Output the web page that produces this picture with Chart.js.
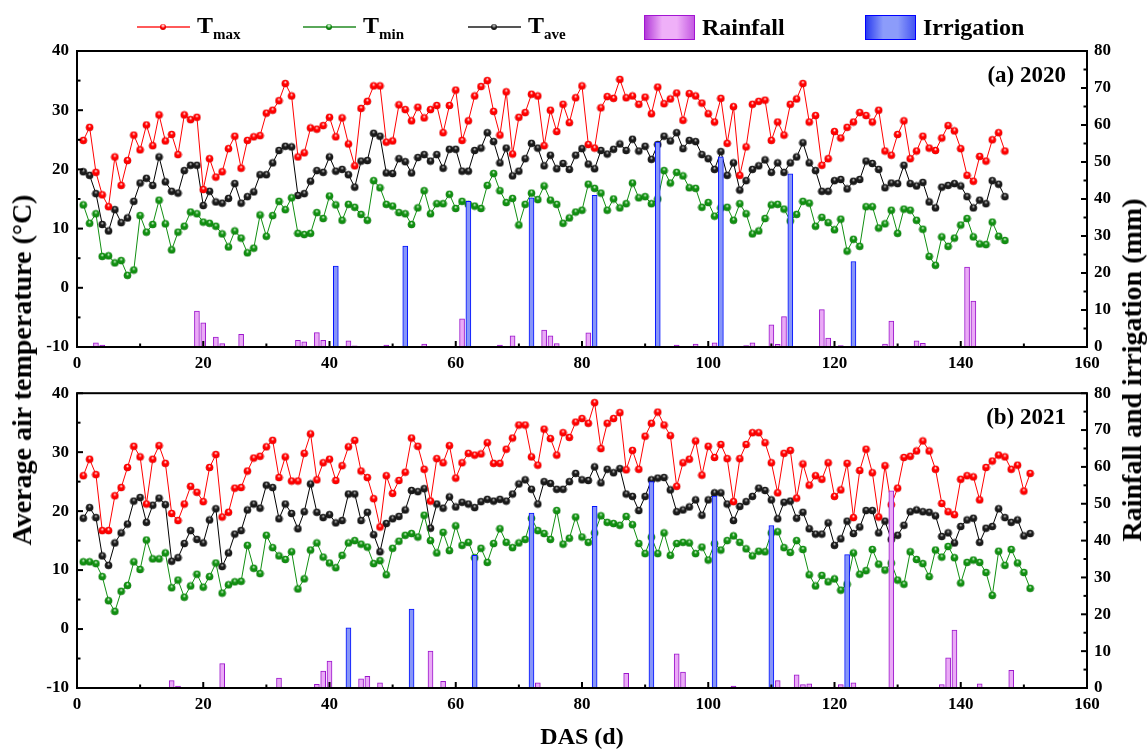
<!DOCTYPE html>
<html>
<head>
<meta charset="utf-8">
<title>Air temperature, rainfall and irrigation</title>
<script src="https://cdn.jsdelivr.net/npm/chart.js@4.4.1/dist/chart.umd.min.js"></script>
<style>
  body { margin: 0; background: #fff; }
  .page {
    position: relative; width: 1148px; height: 749px; overflow: hidden;
    font-family: 'Liberation Serif', 'Times New Roman', serif; font-weight: bold; color: #000;
  }
  #chart2020 { position: absolute; left: 0; top: 0; }
  #chart2021 { position: absolute; left: 0; top: 375px; }

  /* legend */
  .lg { position: absolute; top: 12px; height: 30px; display: flex; align-items: center; font-size: 24px; white-space: nowrap; }
  .lg-line { position: relative; width: 53px; height: 1.5px; margin-right: 7px; }
  .lg-line i { position: absolute; left: 23px; top: -2.5px; width: 6px; height: 6px; border-radius: 50%; }
  .lg sub { font-size: 15px; vertical-align: -6px; }
  .lg-box { width: 51px; height: 25px; margin-right: 7px; box-sizing: border-box; }

  /* axis titles */
  .ytitle { position: absolute; font-size: 28px; white-space: nowrap; transform: translate(-50%, -50%) rotate(-90deg); }
  .xtitle { position: absolute; font-size: 24px; white-space: nowrap; transform: translate(-50%, -50%); }
</style>
</head>
<body>
<div class="page">
  <canvas id="chart2020" width="1148" height="375"></canvas>
  <canvas id="chart2021" width="1148" height="374"></canvas>

  <div class="lg" style="left:137px">
    <span class="lg-line" style="background:#ff5a5a"><i style="background:radial-gradient(circle at 50% 30%, #fff 0, #f00 45%, #a00 100%)"></i></span>
    <span>T<sub>max</sub></span>
  </div>
  <div class="lg" style="left:303px">
    <span class="lg-line" style="background:#5aa85a"><i style="background:radial-gradient(circle at 50% 30%, #fff 0, #119011 45%, #004d00 100%)"></i></span>
    <span>T<sub>min</sub></span>
  </div>
  <div class="lg" style="left:468px">
    <span class="lg-line" style="background:#555"><i style="background:radial-gradient(circle at 50% 30%, #ccc 0, #222 45%, #000 100%)"></i></span>
    <span>T<sub>ave</sub></span>
  </div>
  <div class="lg" style="left:644px">
    <span class="lg-box" style="border:1.5px solid #a214d2;background:linear-gradient(to right,#b23ad8,#efb0f8 35%,#efb0f8 65%,#c45ae2)"></span>
    <span>Rainfall</span>
  </div>
  <div class="lg" style="left:865px">
    <span class="lg-box" style="border:1.5px solid #0000ff;background:linear-gradient(to right,#2a3cf0,#8c9cfa 35%,#8c9cfa 65%,#4656f2)"></span>
    <span>Irrigation</span>
  </div>

  <div class="ytitle" style="left:22px; top:370px">Average air temperature (°C)</div>
  <div class="ytitle" style="left:1132px; top:370px">Rainfall and irrigation (mm)</div>
  <div class="xtitle" style="left:582px; top:736px">DAS (d)</div>
</div>

<script>
'use strict';

// DATA
// days after sowing
const days2020 = Array.from({ length: 147 }, (_, i) => i + 1);
const days2021 = Array.from({ length: 151 }, (_, i) => i + 1);

// daily air temperature 2020 (°C)
const tmax2020 = [
  24.9, 27.1, 19.5, 15.7, 13.7, 22.1, 17.3, 21.5, 25.8, 23.3,
  27.5, 24.0, 29.2, 24.8, 25.9, 22.5, 29.2, 28.4, 28.8, 16.6,
  21.8, 18.7, 19.6, 23.5, 25.6, 20.2, 24.9, 25.5, 25.7, 29.5,
  30.0, 31.6, 34.5, 32.4, 22.1, 22.8, 27.0, 26.8, 27.4, 28.8,
  25.5, 28.7, 24.3, 20.6, 30.3, 31.5, 34.1, 34.1, 24.6, 24.8,
  30.9, 30.1, 28.2, 30.5, 28.7, 30.1, 30.8, 26.2, 30.8, 33.4,
  24.9, 28.2, 32.4, 34.0, 35.0, 29.8, 25.8, 33.1, 22.6, 28.8,
  29.6, 32.7, 32.4, 24.0, 30.0, 26.4, 31.0, 27.9, 32.1, 34.1,
  24.2, 23.6, 30.4, 32.3, 32.0, 35.2, 32.1, 32.4, 31.0, 32.2,
  29.4, 33.9, 31.1, 31.9, 32.9, 28.3, 32.8, 32.4, 31.2, 29.4,
  28.0, 32.0, 24.4, 30.6, 19.0, 23.8, 31.0, 31.5, 31.7, 24.9,
  28.0, 25.8, 31.0, 31.9, 34.5, 28.0, 29.1, 20.7, 21.8, 26.4,
  25.3, 27.1, 28.0, 29.6, 29.1, 28.0, 30.0, 23.1, 22.4, 25.9,
  28.2, 21.8, 23.1, 25.6, 23.6, 23.2, 25.3, 27.4, 26.5, 23.5,
  19.0, 18.0, 22.2, 21.4, 25.0, 26.2, 23.1,
];
const tmin2020 = [
  14.0, 10.9, 12.5, 5.3, 5.4, 4.2, 4.6, 2.1, 3.0, 12.2,
  9.4, 10.7, 14.8, 10.8, 6.4, 9.4, 10.4, 12.8, 12.5, 11.1,
  10.9, 10.4, 9.1, 6.9, 9.6, 8.4, 5.9, 6.7, 12.3, 8.7,
  12.2, 14.6, 13.2, 15.2, 9.2, 9.0, 9.2, 12.7, 11.7, 15.5,
  14.0, 11.4, 14.1, 13.6, 12.4, 11.4, 18.1, 16.9, 14.1, 13.8,
  12.7, 12.5, 10.7, 13.5, 16.4, 12.5, 14.2, 14.2, 15.8, 13.4,
  14.6, 14.1, 13.8, 13.4, 17.3, 19.3, 16.4, 14.4, 15.1, 10.6,
  14.1, 16.0, 14.9, 17.2, 14.8, 14.1, 10.9, 11.8, 12.8, 13.1,
  17.5, 16.8, 16.0, 13.1, 15.0, 13.5, 14.2, 17.7, 15.2, 15.4,
  14.2, 15.0, 19.8, 17.7, 19.5, 18.9, 16.9, 16.8, 13.6, 14.4,
  12.1, 13.5, 13.6, 11.4, 14.2, 12.5, 9.1, 9.6, 11.7, 14.0,
  14.1, 13.3, 11.3, 12.4, 14.6, 14.3, 10.4, 11.9, 11.0, 9.8,
  11.6, 6.2, 8.2, 7.0, 13.7, 13.7, 10.1, 10.8, 13.1, 9.2,
  13.3, 13.1, 11.4, 9.9, 5.3, 3.8, 8.6, 7.0, 8.4, 10.6,
  11.7, 8.6, 7.4, 7.3, 11.1, 8.7, 8.0,
];
const tave2020 = [
  19.6, 19.0, 15.9, 10.7, 9.6, 13.2, 11.0, 11.8, 14.6, 17.7,
  18.5, 17.3, 22.1, 17.9, 16.3, 16.0, 19.8, 20.7, 20.7, 13.9,
  16.3, 14.5, 14.3, 15.1, 17.6, 14.3, 15.4, 16.2, 19.1, 19.1,
  21.1, 23.2, 23.9, 23.8, 15.6, 15.9, 18.0, 19.8, 19.5, 22.1,
  19.7, 20.0, 19.1, 17.0, 21.4, 21.5, 26.1, 25.6, 19.4, 19.3,
  21.8, 21.3, 19.4, 22.0, 22.5, 21.4, 22.5, 20.2, 23.4, 23.4,
  19.7, 19.7, 23.2, 23.6, 26.2, 24.7, 21.1, 23.6, 18.9, 19.7,
  21.8, 24.4, 23.6, 20.6, 22.4, 20.1, 21.0, 20.0, 22.4, 23.5,
  20.9, 20.1, 23.2, 22.6, 23.4, 24.3, 23.2, 25.1, 23.1, 23.9,
  21.7, 24.2, 25.6, 24.8, 26.2, 23.5, 24.9, 24.7, 22.5, 21.8,
  20.0, 23.0, 19.0, 21.1, 16.5, 18.1, 20.0, 20.6, 21.6, 19.5,
  21.1, 19.5, 21.1, 22.1, 24.5, 21.1, 19.8, 16.3, 16.3, 18.1,
  18.3, 16.7, 18.0, 18.3, 21.4, 21.0, 20.0, 16.9, 17.7, 17.6,
  20.7, 17.6, 17.2, 17.8, 14.5, 13.5, 17.0, 17.3, 17.6, 17.2,
  15.4, 13.5, 14.8, 14.2, 18.1, 17.5, 15.4,
];

// daily air temperature 2021 (°C)
const tmax2021 = [
  26.0, 28.8, 26.2, 16.7, 16.7, 22.6, 24.0, 27.4, 31.0, 29.2,
  21.2, 28.8, 31.1, 28.1, 19.6, 18.4, 21.2, 24.2, 23.2, 21.6,
  27.4, 29.6, 19.0, 19.8, 23.9, 24.0, 26.8, 29.0, 29.3, 30.9,
  32.0, 25.7, 29.2, 25.1, 25.1, 29.8, 33.1, 25.3, 28.2, 28.8,
  25.2, 27.7, 30.9, 32.0, 26.8, 25.7, 22.1, 17.3, 26.0, 23.0,
  25.2, 26.6, 32.4, 31.0, 27.1, 21.7, 28.9, 28.2, 31.1, 25.6,
  28.2, 29.8, 29.5, 29.7, 31.6, 28.1, 28.1, 30.5, 32.4, 34.6,
  34.6, 29.2, 27.8, 33.9, 32.3, 29.5, 33.3, 32.5, 35.1, 35.7,
  34.9, 38.4, 30.6, 34.9, 35.7, 36.7, 27.0, 30.3, 27.1, 32.7,
  34.9, 36.8, 34.6, 32.8, 24.2, 28.2, 28.8, 31.9, 26.1, 31.0,
  29.1, 31.3, 28.9, 21.6, 28.9, 31.3, 33.3, 33.3, 31.6, 28.2,
  23.1, 29.8, 30.3, 22.2, 28.0, 24.4, 26.0, 25.4, 28.2, 22.5,
  23.6, 28.1, 18.9, 26.9, 30.5, 26.5, 19.0, 27.7, 21.1, 23.9,
  29.1, 29.3, 30.2, 31.9, 30.2, 27.1, 21.3, 19.9, 19.4, 25.4,
  26.0, 25.8, 21.9, 27.4, 28.5, 29.5, 29.2, 27.1, 27.8, 23.4, 26.4,
];
const tmin2021 = [
  11.4, 11.4, 11.1, 8.9, 4.8, 3.0, 6.4, 7.4, 11.4, 10.1,
  15.1, 11.9, 11.9, 12.9, 7.0, 8.3, 5.4, 7.3, 9.3, 7.1,
  8.9, 11.2, 6.1, 7.5, 8.0, 8.1, 14.2, 10.3, 9.4, 15.9,
  13.8, 12.4, 11.8, 13.1, 6.8, 8.5, 13.4, 14.6, 12.2, 11.2,
  10.4, 12.5, 14.6, 15.0, 14.4, 13.9, 11.1, 11.6, 9.2, 13.7,
  14.9, 15.9, 16.2, 15.6, 19.3, 15.0, 12.9, 16.4, 13.3, 17.5,
  14.2, 14.7, 12.1, 13.7, 11.3, 14.5, 17.0, 14.7, 13.8, 14.6,
  15.2, 18.8, 16.7, 16.2, 15.2, 20.1, 14.4, 15.4, 19.0, 15.6,
  14.7, 16.3, 19.2, 18.1, 17.9, 17.6, 19.1, 17.7, 14.5, 12.8,
  15.6, 12.8, 16.3, 12.5, 14.5, 14.7, 14.6, 12.8, 13.9, 11.7,
  14.5, 13.4, 15.0, 15.8, 14.7, 13.6, 12.4, 13.2, 13.1, 16.3,
  16.5, 13.8, 13.0, 15.0, 13.5, 9.2, 7.3, 9.1, 8.0, 8.5,
  6.6, 7.6, 12.9, 9.3, 9.9, 13.5, 11.0, 10.0, 11.2, 8.3,
  7.6, 13.1, 11.8, 11.1, 8.9, 13.4, 12.2, 14.0, 12.1, 7.8,
  11.3, 11.7, 11.3, 9.6, 5.7, 13.2, 10.8, 13.5, 11.2, 9.6, 6.9,
];
const tave2021 = [
  18.8, 20.6, 18.9, 12.4, 10.8, 14.6, 16.3, 17.8, 21.7, 22.3,
  18.1, 21.0, 22.2, 21.1, 11.5, 12.1, 14.5, 16.7, 15.2, 14.6,
  18.5, 20.4, 10.6, 12.9, 16.1, 16.7, 20.2, 21.2, 20.5, 24.4,
  24.0, 18.7, 21.2, 19.6, 17.0, 19.9, 24.6, 19.8, 18.9, 19.4,
  18.0, 18.4, 22.9, 22.9, 18.4, 19.8, 16.0, 13.1, 17.9, 18.7,
  19.1, 20.2, 23.5, 23.3, 23.8, 17.1, 21.2, 20.5, 22.4, 20.7,
  21.5, 21.2, 20.6, 21.6, 22.0, 21.7, 22.0, 21.7, 22.9, 24.6,
  25.3, 23.7, 21.2, 25.0, 24.7, 23.7, 23.7, 25.0, 26.4, 25.3,
  25.2, 27.5, 24.8, 27.1, 26.5, 27.2, 22.9, 22.5, 20.1, 22.5,
  25.3, 25.6, 25.7, 23.6, 19.9, 20.2, 20.7, 21.9, 19.3, 21.9,
  23.1, 23.1, 21.2, 18.4, 20.8, 21.6, 22.5, 23.9, 23.5, 21.9,
  18.7, 21.5, 21.7, 18.8, 19.8, 17.0, 16.1, 16.1, 18.0, 14.2,
  15.3, 18.3, 16.2, 17.3, 20.1, 20.1, 16.3, 18.3, 15.2, 15.9,
  17.6, 19.9, 20.2, 19.9, 19.8, 19.2, 15.7, 16.3, 14.6, 17.4,
  18.5, 18.8, 14.7, 17.1, 17.4, 20.4, 18.9, 18.1, 18.5, 15.8, 16.2,
];

// rainfall and irrigation events (day, mm)
const rainDays2020 = [3, 4, 19, 20, 22, 23, 26, 35, 36, 38, 39, 43, 44, 49, 55, 61, 67, 69, 74, 75, 76, 81,
  95, 98, 101, 106, 107, 110, 111, 112, 118, 119, 121, 128, 129, 133, 134, 141, 142, 147];
const rainMm2020 = [1.1, 0.5, 9.7, 6.5, 2.7, 0.9, 3.4, 1.8, 1.4, 3.9, 1.8, 1.7, 0.3, 0.5, 0.8, 7.6, 0.5, 3.0, 4.6, 3.0, 0.9, 3.8,
  0.5, 0.8, 1.1, 0.4, 1.1, 6.0, 0.7, 8.2, 10.1, 2.4, 0.4, 0.8, 7.0, 1.7, 1.0, 21.6, 12.4, 0.2];
const irrDays2020 = [41, 52, 62, 72, 82, 92, 102, 113, 123];
const irrMm2020 = [21.9, 27.3, 39.4, 40.3, 41.0, 55.4, 51.4, 46.8, 23.1];

const rainDays2021 = [15, 16, 23, 32, 38, 39, 40, 45, 46, 48, 56, 58, 73, 87, 95, 96, 104, 111, 114, 115, 116,
  121, 123, 129, 137, 138, 139, 143, 148];
const rainMm2021 = [2.0, 0.5, 6.6, 2.7, 1.0, 4.6, 7.3, 2.5, 3.2, 1.4, 10.0, 1.8, 1.4, 4.0, 9.3, 4.3, 0.5, 2.0, 3.6, 0.9, 1.1,
  0.9, 1.4, 53.5, 0.9, 8.2, 15.7, 1.1, 4.8];
const irrDays2021 = [43, 53, 63, 72, 82, 91, 101, 110, 122];
const irrMm2021 = [16.3, 21.4, 36.0, 47.5, 49.3, 56.0, 52.1, 44.1, 36.2];

// tick labels
const dasTicks = [0, 20, 40, 60, 80, 100, 120, 140, 160];
const tempTicks = [-10, 0, 10, 20, 30, 40];
const waterTicks = [0, 10, 20, 30, 40, 50, 60, 70, 80];

// STYLE
const tickFont = { family: "'Liberation Serif', 'Times New Roman', serif", weight: 'bold', size: 17 };
const plotLeft = 77;
const plotRightGap = 61;

// shaded ball used as point marker
const ballSprite = function (body, edge, shine) {
  const c = document.createElement('canvas');
  c.width = 9;
  c.height = 9;
  const g = c.getContext('2d');
  const grad = g.createRadialGradient(4.5, 3.0, 0.2, 4.5, 4.5, 4.2);
  grad.addColorStop(0, shine);
  grad.addColorStop(0.35, body);
  grad.addColorStop(0.8, body);
  grad.addColorStop(1, edge);
  g.fillStyle = grad;
  g.beginPath();
  g.arc(4.5, 4.5, 3.8, 0, Math.PI * 2);
  g.fill();
  return c;
};

const redBall = ballSprite('#ff0000', '#9a0000', '#ffffff');
const greenBall = ballSprite('#118f11', '#004a00', '#e8ffe8');
const blackBall = ballSprite('#1a1a1a', '#000000', '#d0d0d0');

const lineSet = function (label, days, temps, color, sprite) {
  return {
    type: 'line',
    label: label,
    data: days.map((d, i) => ({ x: d, y: temps[i] })),
    borderColor: color,
    backgroundColor: color,
    borderWidth: 1,
    pointStyle: sprite,
    pointRadius: 4,
    tension: 0,
    yAxisID: 'y',
    order: 1,
  };
};

const barSet = function (label, days, mm, fill, edge) {
  return {
    type: 'bar',
    label: label,
    data: days.map((d, i) => ({ x: d, y: mm[i] })),
    backgroundColor: fill,
    borderColor: edge,
    borderWidth: 1,
    barThickness: 5,
    grouped: false,
    yAxisID: 'y2',
    order: 0,
  };
};

// frame, inward ticks and panel tag
const frameTicks = {
  id: 'frameTicks',
  afterDraw(chart, args, opts) {
    const { ctx, chartArea: a, scales } = chart;
    const stroke = function (x1, y1, x2, y2) {
      ctx.beginPath();
      ctx.moveTo(x1, y1);
      ctx.lineTo(x2, y2);
      ctx.stroke();
    };
    ctx.save();
    ctx.strokeStyle = '#000';
    ctx.lineWidth = 2;
    ctx.strokeRect(a.left, a.top, a.right - a.left, a.bottom - a.top);

    for (let d = 0; d <= 160; d += 10) {
      const px = scales.x.getPixelForValue(d);
      stroke(px, a.bottom, px, a.bottom - (d % 20 === 0 ? 6 : 3.5));
    }
    for (let t = -10; t <= 40; t += 5) {
      const py = scales.y.getPixelForValue(t);
      stroke(a.left, py, a.left + (t % 10 === 0 ? 6 : 3.5), py);
    }
    for (let mm = 0; mm <= 80; mm += 5) {
      const py = scales.y2.getPixelForValue(mm);
      stroke(a.right, py, a.right - (mm % 10 === 0 ? 6 : 3.5), py);
    }

    ctx.fillStyle = '#000';
    ctx.font = "bold 23px 'Liberation Serif', 'Times New Roman', serif";
    ctx.textAlign = 'right';
    ctx.textBaseline = 'middle';
    ctx.fillText(opts.tag, a.right - 21, a.top + 25);
    ctx.restore();
  },
};

const makePanel = function (canvasId, panel) {
  return new Chart(document.getElementById(canvasId), {
    type: 'line',
    data: {
      datasets: [
        lineSet('Tmax', panel.days, panel.tmax, '#ff0000', redBall),
        lineSet('Tmin', panel.days, panel.tmin, '#118f11', greenBall),
        lineSet('Tave', panel.days, panel.tave, '#000000', blackBall),
        barSet('Rainfall', panel.rainDays, panel.rainMm, '#eaaaf6', '#9c16cc'),
        barSet('Irrigation', panel.irrDays, panel.irrMm, '#8796f8', '#0010ff'),
      ],
    },
    options: {
      responsive: false,
      animation: false,
      devicePixelRatio: 1,
      layout: { padding: { top: panel.top, left: 0, right: 0, bottom: 0 } },
      plugins: {
        legend: { display: false },
        tooltip: { enabled: false },
        frameTicks: { tag: panel.tag },
      },
      scales: {
        x: {
          type: 'linear',
          min: 0,
          max: 160,
          offset: false,
          grid: { display: false, drawTicks: false },
          border: { display: false },
          ticks: { font: tickFont, color: '#000', padding: 6, autoSkip: false, maxRotation: 0 },
          afterBuildTicks: s => { s.ticks = dasTicks.map(v => ({ value: v })); },
          afterFit: s => { s.height = panel.axisHeight; },
        },
        y: {
          type: 'linear',
          position: 'left',
          min: -10,
          max: 40,
          grid: { display: false, drawTicks: false },
          border: { display: false },
          ticks: { font: tickFont, color: '#000', padding: 8 },
          afterBuildTicks: s => { s.ticks = tempTicks.map(v => ({ value: v })); },
          afterFit: s => { s.width = plotLeft; },
        },
        y2: {
          type: 'linear',
          position: 'right',
          min: 0,
          max: 80,
          grid: { display: false, drawTicks: false },
          border: { display: false },
          ticks: { font: tickFont, color: '#000', padding: 7 },
          afterBuildTicks: s => { s.ticks = waterTicks.map(v => ({ value: v })); },
          afterFit: s => { s.width = plotRightGap; },
        },
      },
    },
    plugins: [frameTicks],
  });
};

// CHARTS
makePanel('chart2020', {
  days: days2020, tmax: tmax2020, tmin: tmin2020, tave: tave2020,
  rainDays: rainDays2020, rainMm: rainMm2020, irrDays: irrDays2020, irrMm: irrMm2020,
  tag: '(a) 2020', top: 51, axisHeight: 28,
});

makePanel('chart2021', {
  days: days2021, tmax: tmax2021, tmin: tmin2021, tave: tave2021,
  rainDays: rainDays2021, rainMm: rainMm2021, irrDays: irrDays2021, irrMm: irrMm2021,
  tag: '(b) 2021', top: 16, axisHeight: 61,
});
</script>
</body>
</html>
